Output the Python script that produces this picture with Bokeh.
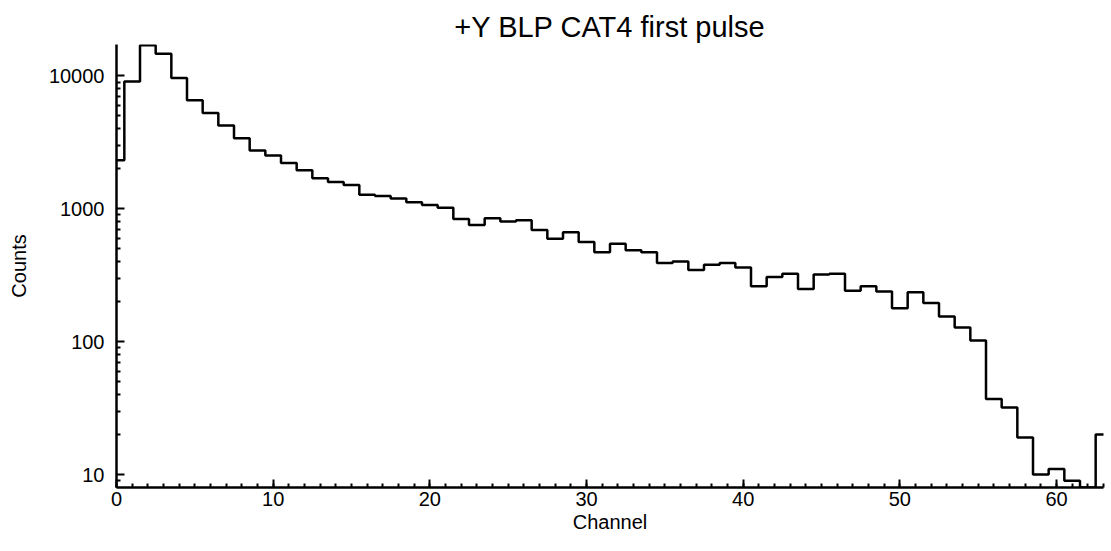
from bokeh.plotting import figure
from bokeh.models import FixedTicker, SingleIntervalTicker, Range1d, CustomJSTickFormatter
from bokeh.embed import file_html
from bokeh.resources import INLINE

# Data: counts per channel (bins centred on integer channels)
channels = list(range(64))
counts = [2320, 9100, 17000, 14700, 9660, 6570, 5270, 4240, 3400, 2750,
          2520, 2210, 1955, 1700, 1590, 1515, 1275, 1250, 1195, 1120,
          1070, 1020, 837, 755, 851, 803, 822, 692, 595, 668,
          562, 472, 546, 489, 472, 391, 402, 346, 380, 391,
          362, 261, 307, 325, 249, 320, 325, 242, 262, 239,
          179, 236, 196, 155, 128, 102, 37, 32, 19, 10,
          11, 9, 8, 20]
y_major = [10, 100, 1000, 10000]
x_ticks_interval = 10
title_text = "+Y BLP CAT4 first pulse"
x_label = "Channel"
y_label = "Counts"

FONT = "Liberation Sans"

p = figure(width=1111, height=551, y_axis_type="log",
           x_range=Range1d(0, 63), y_range=Range1d(8.0, 17250),
           output_backend="svg", toolbar_location=None,
           min_border_left=116, min_border_right=8,
           min_border_top=44, min_border_bottom=64)

p.title.text = title_text
p.title.align = "center"
p.title.text_font = FONT
p.title.text_font_size = "29px"
p.title.text_font_style = "normal"
p.title.text_color = "black"
p.title.standoff = 3

# histogram edges built from the channel list
edges = [c - 0.5 for c in channels] + [channels[-1] + 0.5]
vals = counts + [counts[-1]]
p.step(edges, vals, mode="after", line_color="black", line_width=2.5)

p.grid.visible = False
p.outline_line_color = None
p.background_fill_color = "white"
p.border_fill_color = "white"

p.xaxis.ticker = SingleIntervalTicker(interval=x_ticks_interval, num_minor_ticks=10)
minor = [9] + [m * d for d in y_major for m in range(2, 10)]
p.yaxis.ticker = FixedTicker(ticks=y_major, minor_ticks=minor)

for ax in (p.xaxis[0], p.yaxis[0]):
    ax.axis_line_width = 2.5
    ax.axis_line_color = "black"
    ax.major_tick_in = 8
    ax.major_tick_out = 0
    ax.minor_tick_in = 4
    ax.minor_tick_out = 0
    ax.major_tick_line_width = 2
    ax.minor_tick_line_width = 2
    ax.major_tick_line_color = "black"
    ax.minor_tick_line_color = "black"
    ax.major_label_text_font = FONT
    ax.major_label_text_font_size = "20px"
    ax.major_label_text_color = "black"
    ax.axis_label_text_font = FONT
    ax.axis_label_text_font_size = "20px"
    ax.axis_label_text_font_style = "normal"
    ax.axis_label_text_color = "black"

p.yaxis.formatter = CustomJSTickFormatter(code="return tick.toFixed(0);")

p.xaxis.axis_label = x_label
p.yaxis.axis_label = y_label
p.xaxis.major_label_standoff = 4
p.xaxis.axis_label_standoff = 2
p.yaxis.major_label_standoff = 12
p.yaxis.axis_label_standoff = 16

open("out.html", "w").write(file_html(p, INLINE))
